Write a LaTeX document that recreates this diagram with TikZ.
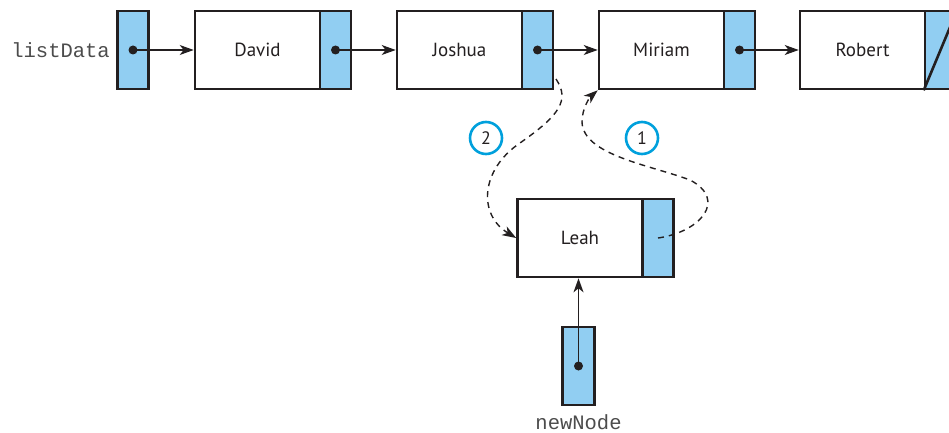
\documentclass[tikz,border=0pt]{standalone}
\usepackage{fontspec}
\setsansfont{PT Sans}
\setmonofont{Liberation Mono}
\usetikzlibrary{arrows.meta}
\definecolor{ptrblue}{RGB}{145,206,242}
\definecolor{edge}{RGB}{35,31,32}
\definecolor{numcyan}{RGB}{0,160,220}
\begin{document}
\begin{tikzpicture}[x=1pt,y=-1pt,
  databox/.style={draw=edge, line width=2.6pt, fill=white, minimum width=125pt, minimum height=78pt, inner sep=0pt, font=\sffamily\fontsize{19}{22}\selectfont, text=edge},
  ptrbox/.style={draw=edge, line width=2.6pt, fill=ptrblue, minimum width=31pt, minimum height=78pt, inner sep=0pt},
  link/.style={draw=edge, line width=1.4pt, -{Stealth[length=14pt,width=10pt,inset=4pt]}},
  dashlink/.style={link, dash pattern=on 6pt off 5pt},
  numcirc/.style={circle, draw=numcyan, line width=2.6pt, minimum size=32pt, inner sep=0pt, font=\sffamily\fontsize{18}{20}\selectfont, text=edge},
  monolabel/.style={font=\ttfamily\fontsize{20.5}{22}\selectfont, text=black!70, inner sep=0pt}]
\useasboundingbox (0,0) rectangle (949,433);
\clip (0,0) rectangle (949,433);

% top row
\node[ptrbox] (p0) at (133,50) {};
\node[monolabel, anchor=east] (lbl) at (110,50) {listData};
\node[databox] (d1) at (257.5,50) {David};
\node[ptrbox] (p1) at (335.5,50) {};
\node[databox] (d2) at (459.5,50) {Joshua};
\node[ptrbox] (p2) at (537.5,50) {};
\node[databox] (d3) at (661.5,50) {Miriam};
\node[ptrbox] (p3) at (739.5,50) {};
\node[databox] (d4) at (862.5,50) {Robert};
\node[ptrbox] (p4) at (940.5,50) {};
\draw[edge, line width=2.6pt] (p4.south west) -- (p4.north east);

% new node
\node[databox] (leah) at (580,238) {Leah};
\node[ptrbox] (pl) at (658,238) {};
\node[ptrbox, minimum width=32pt] (pn) at (578.5,366) {};
\node[monolabel] (nlbl) at (578.5,422) {newNode};

% dots
\foreach \p in {p0,p1,p2,p3,pn}{\fill[edge] (\p.center) circle (4.5pt);}

% links
\draw[link] (p0.center) -- (d1.west);
\draw[link] (p1.center) -- (d2.west);
\draw[link] (p2.center) -- (d3.west);
\draw[link] (p3.center) -- (d4.west);
\draw[link] (pn.center) -- (pn.center |- leah.south);

% dashed changes
\coordinate (s2) at (556,79);
\draw[dashlink] (s2) .. controls (570,100) and (560,115) .. (520,143)
  .. controls (480,170) and (478,215) .. (leah.west);
\draw[dashlink] (pl.center) .. controls (700,232) and (728,200) .. (690,180)
  .. controls (650,165) and (583,155) .. (582,122)
  .. controls (582,108) and (590,97) .. (d3.south west);

% step numbers
\node[numcirc] (n2) at (486,138) {2};
\node[numcirc] (n1) at (642,138) {1};
\end{tikzpicture}
\end{document}
